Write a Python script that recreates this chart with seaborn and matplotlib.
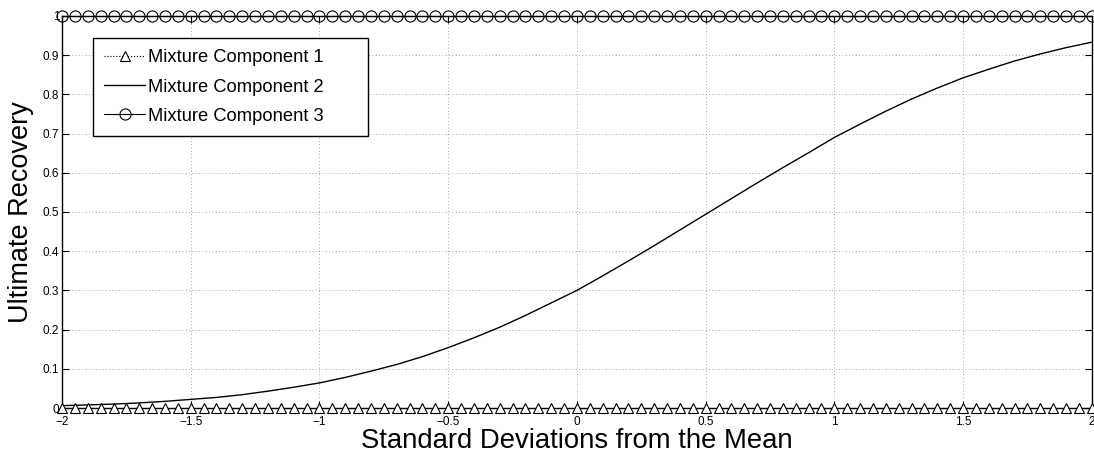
import matplotlib
matplotlib.use("Agg")
import matplotlib.pyplot as plt
import seaborn as sns
import numpy as np

# Standard deviations from the mean (marker positions for the flat components)
sd_points = [round(-2.0 + 0.05 * i, 2) for i in range(81)]
component1 = [0.0] * len(sd_points)
component3 = [1.0] * len(sd_points)

# Smooth recovery curve of component 2
sd_curve = [round(-2.0 + 0.1 * i, 1) for i in range(41)]
component2 = [0.006, 0.008, 0.010, 0.013, 0.017, 0.022, 0.027, 0.034, 0.043, 0.053,
              0.064, 0.078, 0.094, 0.111, 0.131, 0.154, 0.179, 0.206, 0.236, 0.268,
              0.300, 0.337, 0.375, 0.414, 0.454, 0.494, 0.534, 0.574, 0.613, 0.651,
              0.690, 0.724, 0.757, 0.788, 0.816, 0.842, 0.864, 0.885, 0.903, 0.919,
              0.933]

x_ticks = [-2, -1.5, -1, -0.5, 0, 0.5, 1, 1.5, 2]
y_ticks = [0, 0.1, 0.2, 0.3, 0.4, 0.5, 0.6, 0.7, 0.8, 0.9, 1]
y_ticklabels = ["0", "0.1", "0.2", "0.3", "0.4", "0.5", "0.6", "0.7", "0.8", "0.9", "1"]
x_ticklabels = ["\u22122", "\u22121.5", "\u22121", "\u22120.5", "0", "0.5", "1", "1.5", "2"]

sns.set_style("white")
plt.rcParams["font.family"] = ["Liberation Sans", "DejaVu Sans"]
plt.rcParams["text.color"] = "black"
plt.rcParams["axes.labelcolor"] = "black"
plt.rcParams["xtick.color"] = "black"
plt.rcParams["ytick.color"] = "black"

fig = plt.figure(figsize=(10.94, 4.54), dpi=100)
ax = fig.add_axes([0.0567, 0.1013, 0.9413, 0.8637])

sns.lineplot(x=sd_points, y=component1, ax=ax, color="black", linestyle=":",
             linewidth=0.8, marker="^", markersize=6.5, markerfacecolor="white",
             markeredgecolor="black", markeredgewidth=0.8, clip_on=False,
             label="Mixture Component 1", zorder=4)
sns.lineplot(x=sd_curve, y=component2, ax=ax, color="black", linestyle="-",
             linewidth=1.0, label="Mixture Component 2", zorder=3)
sns.lineplot(x=sd_points, y=component3, ax=ax, color="black", linestyle="-",
             linewidth=0.8, marker="o", markersize=8, markerfacecolor="none",
             markeredgecolor="black", markeredgewidth=0.8, clip_on=False,
             label="Mixture Component 3", zorder=4)

ax.set_xlim(-2, 2)
ax.set_ylim(0, 1)
ax.set_xticks(x_ticks)
ax.set_xticklabels(x_ticklabels)
ax.set_yticks(y_ticks)
ax.set_yticklabels(y_ticklabels)
ax.tick_params(axis="both", which="major", direction="in", length=5, width=0.8,
               labelsize=8.5, top=True, right=True, bottom=True, left=True,
               colors="black")
ax.tick_params(axis="x", pad=6)
ax.tick_params(axis="y", pad=2)

ax.grid(True, linestyle=(0, (1, 3)), color="#888888", linewidth=0.6)
for side in ["left", "right", "top", "bottom"]:
    ax.spines[side].set_visible(True)
    ax.spines[side].set_color("black")
    ax.spines[side].set_linewidth(1.0)

ax.set_xlabel("Standard Deviations from the Mean", fontsize=19.8, labelpad=0)
ax.set_ylabel("Ultimate Recovery", fontsize=19.5, labelpad=6)

leg = ax.legend(loc="upper left", bbox_to_anchor=(0.030, 0.5, 0.267, 0.443),
                mode="expand", fontsize=13.2, frameon=True, fancybox=False,
                framealpha=1, edgecolor="black", borderaxespad=0,
                handlelength=2.25, handletextpad=0.15, borderpad=0.6,
                labelspacing=0.67)
leg.get_frame().set_linewidth(1.0)

fig.savefig("out.png", dpi=100)
